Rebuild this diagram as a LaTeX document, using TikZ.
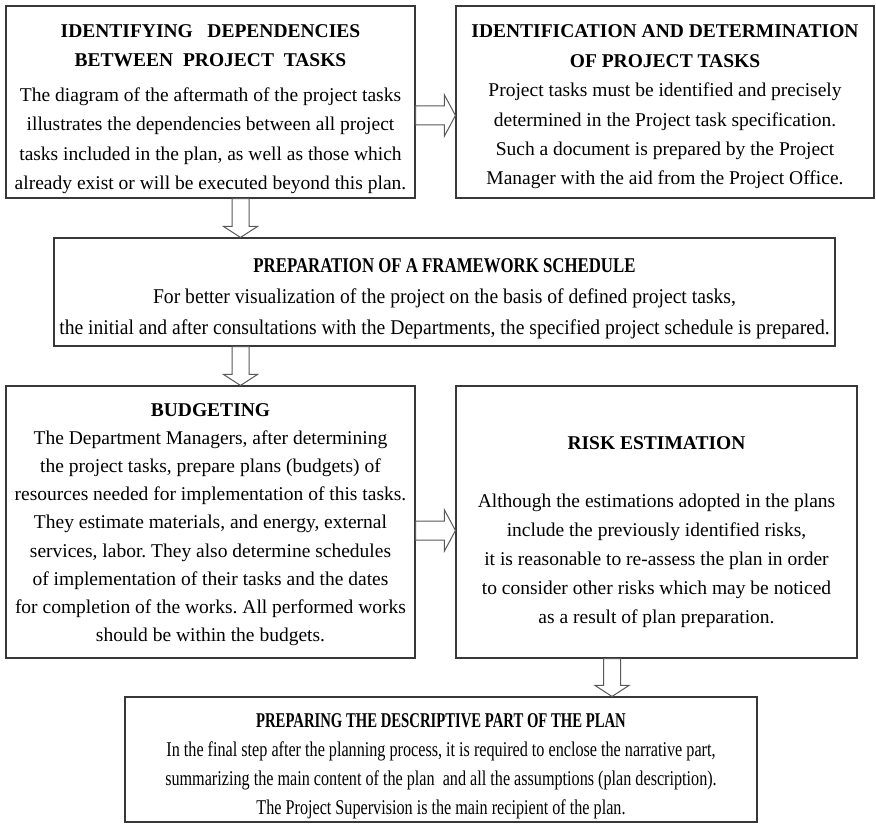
\documentclass[tikz,border=0pt]{standalone}
\usepackage{fontspec}
\setmainfont{Liberation Serif}
% horizontally condensed cuts of the same serif for the two wide boxes
\newfontfamily\midtitlefont[FakeStretch=0.80]{Liberation Serif}
\newfontfamily\midbodyfont[FakeStretch=0.935]{Liberation Serif}
\newfontfamily\plantitlefont[FakeStretch=0.70]{Liberation Serif}
\newfontfamily\planbodyfont[FakeStretch=0.77]{Liberation Serif}
\frenchspacing
\usetikzlibrary{calc}
\begin{document}
\begin{tikzpicture}[x=1pt,y=-1pt,
  framebox/.style={draw=black!78, line width=1.1pt, inner sep=0pt},
  boxtext/.style={align=center, inner sep=0pt, font=\fontsize{19.5}{29}\selectfont},
  blk/.style={draw=black!65, line width=1pt, fill=white, line join=miter},
  % hollow block arrow pointing right
  rarrow/.style={blk, to path={let \p1=(\tikztostart), \p2=(\tikztotarget) in
    (\x1,\y1+9.5pt) -- (\x2-11pt,\y1+9.5pt) -- (\x2-11pt,\y1+20.5pt) -- (\x2,\y1)
    -- (\x2-11pt,\y1-20.5pt) -- (\x2-11pt,\y1-9.5pt) -- (\x1,\y1-9.5pt) -- cycle}},
  % hollow block arrow pointing down
  darrow/.style={blk, to path={let \p1=(\tikztostart), \p2=(\tikztotarget) in
    (\x1-8.5pt,\y1) -- (\x1-8.5pt,\y2+11pt) -- (\x1-17pt,\y2+11pt) -- (\x1,\y2)
    -- (\x1+17pt,\y2+11pt) -- (\x1+8.5pt,\y2+11pt) -- (\x1+8.5pt,\y1) -- cycle}}
]
\useasboundingbox (0,0) rectangle (876,824);

% ---- step frames ----
\node[framebox, minimum width=409pt, minimum height=192pt] (ident)  at (210.5,102) {};
\node[framebox, minimum width=418pt, minimum height=192pt] (determ) at (665,102)   {};
\node[framebox, minimum width=781pt, minimum height=108pt] (frame)  at (444.5,292) {};
\node[framebox, minimum width=409pt, minimum height=272pt] (budget) at (210.5,522) {};
\node[framebox, minimum width=401pt, minimum height=272pt] (risk)   at (656.5,522) {};
\node[framebox, minimum width=632pt, minimum height=125pt] (plan)   at (441,759.5) {};

% ---- step texts ----
\node[boxtext, font=\fontsize{19.5}{29.5}\selectfont, yshift=-7pt] (identtxt) at (ident) {%
  \textbf{IDENTIFYING\ \ \ DEPENDENCIES}\\
  \textbf{BETWEEN\ \ PROJECT\ \ TASKS}\\[5pt]
  The diagram of the aftermath of the project tasks\\
  illustrates the dependencies between all project\\
  tasks included in the plan, as well as those which\\
  already exist or will be executed beyond this plan.};

\node[boxtext, font=\fontsize{19.5}{29.4}\selectfont, yshift=-5pt] (determtxt) at (determ) {%
  \textbf{IDENTIFICATION AND DETERMINATION}\\
  \textbf{OF PROJECT TASKS}\\
  Project tasks must be identified and precisely\\
  determined in the Project task specification.\\
  Such a document is prepared by the Project\\
  Manager with the aid from the Project Office.};

\node[boxtext, font=\fontsize{21}{31}\selectfont, yshift=-7pt] (frametxt) at (frame) {%
  {\midtitlefont\bfseries PREPARATION OF A FRAMEWORK SCHEDULE}\\
  {\midbodyfont For better visualization of the project on the basis of defined project tasks,}\\
  {\midbodyfont the initial and after consultations with the Departments, the specified project schedule is prepared.}};

\node[boxtext, font=\fontsize{19.5}{28.2}\selectfont, yshift=-2.5pt] (budgettxt) at (budget) {%
  \textbf{BUDGETING}\\
  The Department Managers, after determining\\
  the project tasks, prepare plans (budgets) of\\
  resources needed for implementation of this tasks.\\
  They estimate materials, and energy, external\\
  services, labor. They also determine schedules\\
  of implementation of their tasks and the dates\\
  for completion of the works. All performed works\\
  should be within the budgets.};

\node[boxtext, yshift=-10pt] (risktxt) at (risk) {%
  \textbf{RISK ESTIMATION}\\[29pt]
  Although the estimations adopted in the plans\\
  include the previously identified risks,\\
  it is reasonable to re-assess the plan in order\\
  to consider other risks which may be noticed\\
  as a result of plan preparation.};

\node[boxtext, font=\fontsize{21}{29}\selectfont, yshift=-6.5pt] (plantxt) at (plan) {%
  {\plantitlefont\bfseries PREPARING THE DESCRIPTIVE PART OF THE PLAN}\\
  {\planbodyfont In the final step after the planning process, it is required to enclose the narrative part,}\\
  {\planbodyfont summarizing the main content of the plan\ \ and all the assumptions (plan description).}\\
  {\planbodyfont The Project Supervision is the main recipient of the plan.}};

% ---- flow arrows between the steps ----
\draw[rarrow] ([yshift=-13.5pt]ident.east) to ([yshift=-13.5pt]determ.west);
\draw[darrow] ([xshift=30pt]ident.south) to ([xshift=30pt]ident.south |- frame.north);
\draw[darrow] ([xshift=30pt]ident.south |- frame.south) to ([xshift=30pt]budget.north);
\draw[rarrow] ([yshift=-8.5pt]budget.east) to ([yshift=-8.5pt]budget.east -| risk.west);
\draw[darrow] ([xshift=-44.5pt]risk.south) to ([xshift=-44.5pt]risk.south |- plan.north);
\end{tikzpicture}
\end{document}
